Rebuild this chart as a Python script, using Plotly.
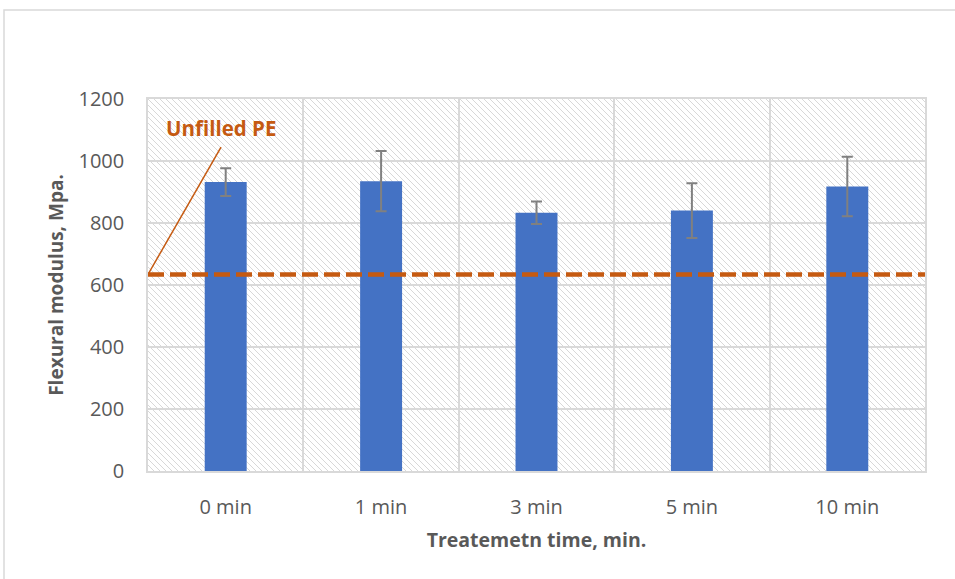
import base64
import plotly.graph_objects as go

# Flexural modulus by treatment time
categories = ["0 min", "1 min", "3 min", "5 min", "10 min"]
modulus = [932, 935, 833, 840, 918]
modulus_err = [45, 97, 36, 88, 96]
unfilled_pe = 634
unfilled_label = "Unfilled PE"
y_ticks = [0, 200, 400, 600, 800, 1000, 1200]

W, H = 955, 579
L, R, T, B = 148, 30, 99, 108
PW, PH = W - L - R, H - T - B

ORANGE = "#C55A11"
BLUE = "#4472C4"
GRID = "#d9d9d9"
TEXT = "#595959"
FONT = "Open Sans"

# diagonal hatch used as the plot-area fill
hatch_svg = f"""<svg xmlns='http://www.w3.org/2000/svg' width='{PW}' height='{PH}'>
<defs><pattern id='h' patternUnits='userSpaceOnUse' width='6' height='6'>
<path d='M0,0 L6,6 M-1,5 L1,7 M5,-1 L7,1' stroke='#d8d8d8' stroke-width='1'/>
</pattern></defs>
<rect width='{PW}' height='{PH}' fill='white'/>
<rect width='{PW}' height='{PH}' fill='url(#h)'/>
</svg>"""
hatch_uri = "data:image/svg+xml;base64," + base64.b64encode(hatch_svg.encode()).decode()

fig = go.Figure()
fig.add_trace(go.Bar(
    x=categories, y=modulus,
    marker=dict(color=BLUE, line=dict(width=0)),
    width=0.27,
    error_y=dict(type="data", array=modulus_err, visible=True,
                 color="#808080", thickness=2, width=5.5),
    showlegend=False,
))

fig.add_layout_image(dict(
    source=hatch_uri, xref="paper", yref="paper", x=0, y=1,
    sizex=1, sizey=1, sizing="stretch", layer="below",
    xanchor="left", yanchor="top",
))

# unfilled PE reference line
fig.add_shape(type="line", xref="x domain", yref="y", x0=0, x1=1,
              y0=unfilled_pe, y1=unfilled_pe,
              line=dict(color=ORANGE, width=4.5, dash="16px,6px"), layer="above")
# leader line to the label
fig.add_shape(type="line", xref="x", yref="y", x0=-0.5, y0=unfilled_pe,
              x1=-0.03, y1=1045, line=dict(color=ORANGE, width=1.5))
fig.add_annotation(x=-0.03, y=1106, xref="x", yref="y", text=f"<b>{unfilled_label}</b>",
                   showarrow=False, font=dict(family=FONT, size=20.5, color=ORANGE))

# outer chart frame
fig.add_shape(type="rect", xref="paper", yref="paper",
              x0=(4 - L) / PW, x1=(W + 20 - L) / PW,
              y0=-(B + 20) / PH, y1=1 + (T - 10) / PH,
              line=dict(color="#d9d9d9", width=1.5), fillcolor="rgba(0,0,0,0)")

fig.update_layout(
    width=W, height=H,
    margin=dict(l=L, r=R, t=T, b=B),
    paper_bgcolor="white", plot_bgcolor="white",
    bargap=0.73,
    font=dict(family=FONT, color=TEXT, size=20),
)
fig.update_xaxes(
    type="category", tickson="boundaries", showgrid=True, gridcolor=GRID, gridwidth=1.5,
    showline=True, linecolor=GRID, linewidth=1.5, mirror=True,
    ticks="", ticklabelstandoff=17,
    tickfont=dict(family=FONT, size=20, color=TEXT),
    title=dict(text="<b>Treatemetn time, min.</b>", standoff=15,
               font=dict(family=FONT, size=19.5, color=TEXT)),
    range=[-0.5, 4.5],
)
fig.update_yaxes(
    range=[0, 1200], tickvals=y_ticks, showgrid=True, gridcolor=GRID, gridwidth=1.5,
    zeroline=False, showline=True, linecolor=GRID, linewidth=1.5, mirror=True,
    ticks="", ticklabelstandoff=18,
    tickfont=dict(family=FONT, size=20, color=TEXT),
    title=dict(text="<b>Flexural modulus, Mpa.</b>", standoff=10,
               font=dict(family=FONT, size=19, color=TEXT)),
)

fig.write_html("out.html")
